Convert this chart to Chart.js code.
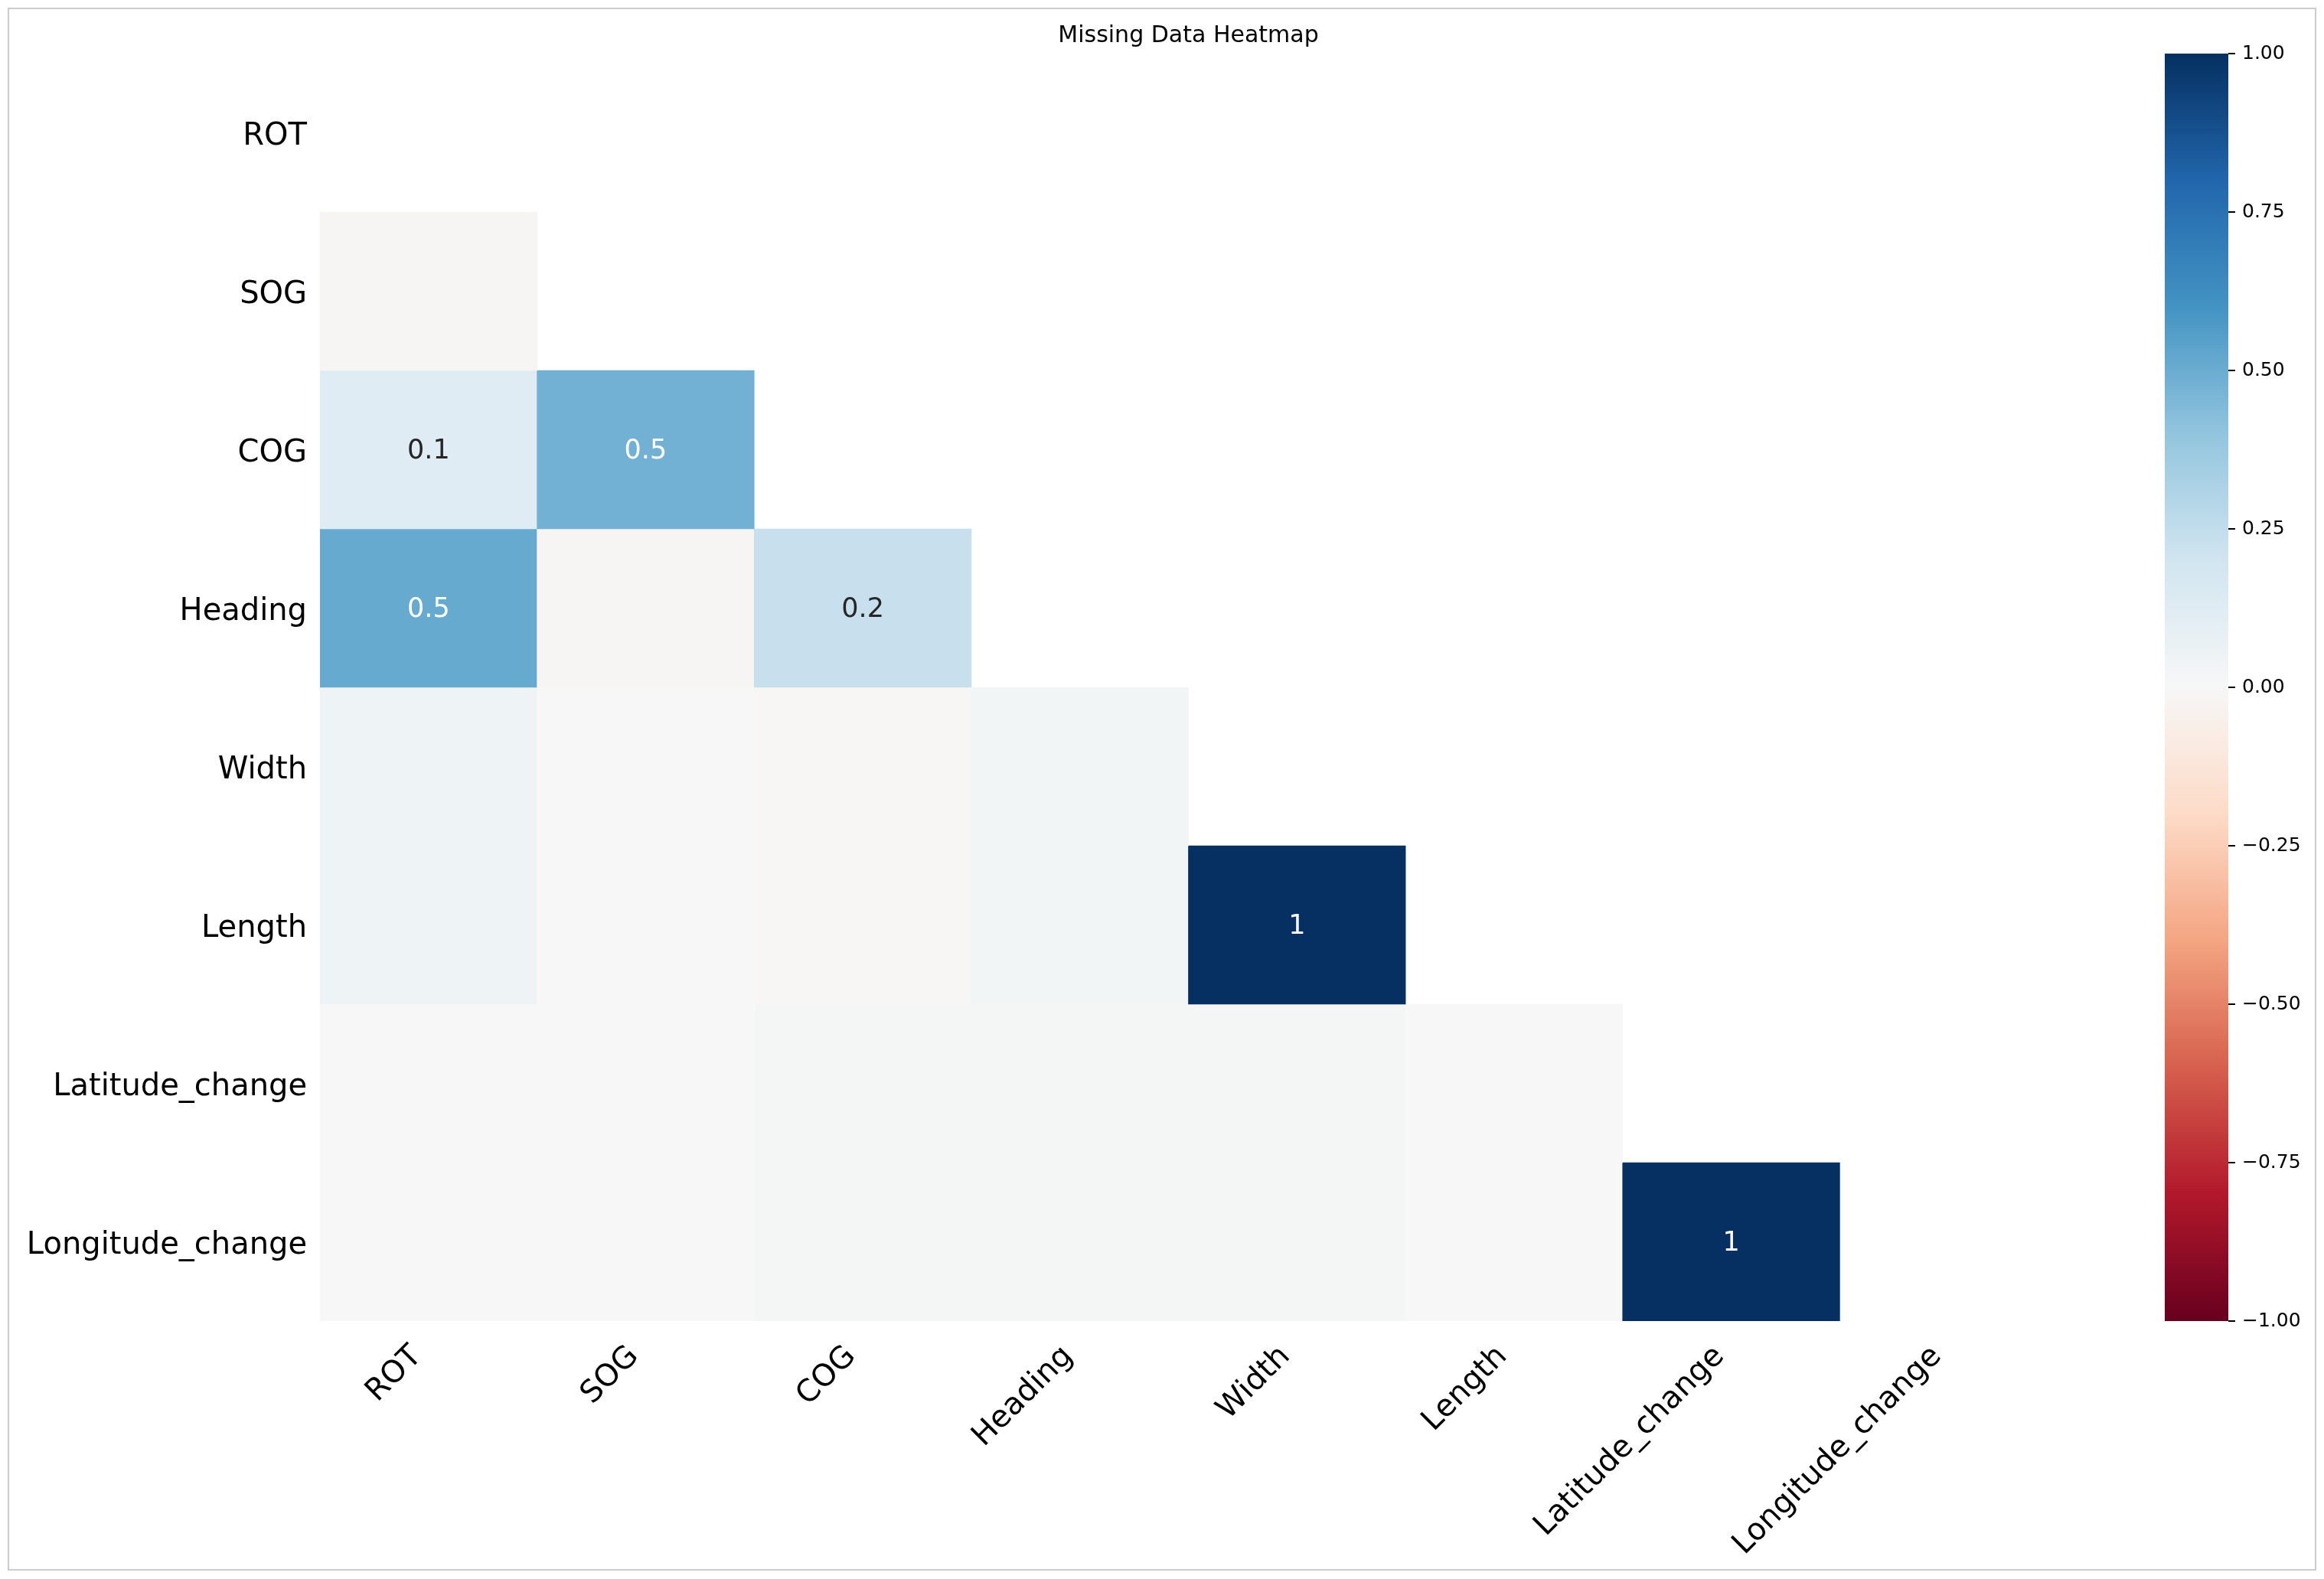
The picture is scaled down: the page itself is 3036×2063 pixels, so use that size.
<!DOCTYPE html>
<html>
<head>
<meta charset="utf-8">
<title>Missing Data Heatmap</title>
<script src="https://cdn.jsdelivr.net/npm/chart.js@4.4.1/dist/chart.umd.min.js"></script>
<style>
  html, body { margin: 0; padding: 0; background: #fff; }
  #page { position: relative; width: 3036px; height: 2063px; overflow: hidden; }
  #frame { position: absolute; left: 10px; top: 10px; width: 3012px; height: 2038px; border: 2px solid #cccccc; }
  #heatBox { position: absolute; left: 0; top: 0; width: 3036px; height: 2063px; }
  #barBox { position: absolute; left: 2780px; top: 0; width: 256px; height: 2063px; }
</style>
</head>
<body>
<div id="page">
  <div id="frame"></div>
  <div id="heatBox"><canvas id="heatmap"></canvas></div>
  <div id="barBox"><canvas id="colorbar"></canvas></div>
</div>
<script>
'use strict';

let columns = ['ROT', 'SOG', 'COG', 'Heading', 'Width', 'Length', 'Latitude_change', 'Longitude_change'];
let rowNames = ['ROT', 'SOG', 'COG', 'Heading', 'Width', 'Length', 'Latitude_change', 'Longitude_change'];

// nullity correlation, lower triangle only (one array per row, left of the diagonal)
let rotRow = [];
let sogRow = [-0.012];
let cogRow = [0.12, 0.48];
let headingRow = [0.51, -0.012, 0.23];
let widthRow = [0.045, 0.0, -0.01, 0.025];
let lengthRow = [0.045, 0.0, -0.01, 0.025, 1];
let latitudeRow = [0.0, 0.0, 0.015, 0.015, 0.015, 0.0];
let longitudeRow = [0.0, 0.0, 0.015, 0.015, 0.015, 0.0, 1];

let colorbarTicks = [-1, -0.75, -0.5, -0.25, 0, 0.25, 0.5, 0.75, 1];

let corrRows = [rotRow, sogRow, cogRow, headingRow, widthRow, lengthRow, latitudeRow, longitudeRow];

///////////////////////////// RdBu colour map /////////////////////////////
let rdbuColors = ['#67001f', '#b2182b', '#d6604d', '#f4a582', '#fddbc7', '#f7f7f7',
                  '#d1e5f0', '#92c5de', '#4393c3', '#2166ac', '#053061'];

function hexRgb(h) {
    return [parseInt(h.slice(1, 3), 16), parseInt(h.slice(3, 5), 16), parseInt(h.slice(5, 7), 16)];
}

function rdbuRgb(v) {
    let t = (v + 1) / 2 * 10;
    let i = Math.min(Math.floor(t), 9);
    let f = t - i;
    let a = hexRgb(rdbuColors[i]);
    let b = hexRgb(rdbuColors[i + 1]);
    return a.map((x, k) => Math.round(x + (b[k] - x) * f));
}

function rdbu(v) {
    let c = rdbuRgb(v);
    return `rgb(${c[0]},${c[1]},${c[2]})`;
}

// same rule seaborn uses to pick the annotation colour
function textColor(v) {
    let lin = rdbuRgb(v).map(x => {
        x = x / 255;
        return x <= 0.03928 ? x / 12.92 : Math.pow((x + 0.055) / 1.055, 2.4);
    });
    let lum = 0.2126 * lin[0] + 0.7152 * lin[1] + 0.0722 * lin[2];
    return lum > 0.408 ? '#262626' : '#ffffff';
}

function cellLabel(v) {
    return String(Number(v.toPrecision(1)));
}

Chart.defaults.font.family = '"DejaVu Sans", sans-serif';
Chart.defaults.color = '#000';

///////////////////////////// heatmap /////////////////////////////
let heatDatasets = [];
for (let r = 0; r < rowNames.length; r++) {
    let vals = corrRows[r];
    heatDatasets.push({
        label: rowNames[r],
        values: vals,
        data: columns.map((c, i) => i < vals.length ? [r, r + 1] : null),
        backgroundColor: columns.map((c, i) => i < vals.length ? rdbu(vals[i]) : 'rgba(0,0,0,0)'),
        borderWidth: 0,
        barPercentage: 1,
        categoryPercentage: 1,
        grouped: false
    });
}

let cellText = {
    id: 'cellText',
    afterDatasetsDraw(chart) {
        let ctx = chart.ctx;
        ctx.save();
        ctx.font = '35px "DejaVu Sans"';
        ctx.textAlign = 'center';
        ctx.textBaseline = 'middle';
        chart.data.datasets.forEach((ds, r) => {
            let meta = chart.getDatasetMeta(r);
            ds.values.forEach((v, c) => {
                if (Math.abs(v) < 0.05) return;
                let p = meta.data[c].getProps(['x', 'y', 'base'], true);
                ctx.fillStyle = textColor(v);
                ctx.fillText(cellLabel(v), p.x, (p.y + p.base) / 2 + 2);
            });
        });
        ctx.restore();
    }
};

new Chart(document.getElementById('heatmap'), {
    type: 'bar',
    data: { labels: columns, datasets: heatDatasets },
    plugins: [cellText],
    options: {
        responsive: true,
        maintainAspectRatio: false,
        animation: false,
        layout: { padding: { left: 0, right: 349, top: 0, bottom: 0 } },
        plugins: {
            legend: { display: false },
            tooltip: { enabled: false },
            title: {
                display: true,
                text: 'Missing Data Heatmap',
                fullSize: false,
                color: '#000',
                font: { size: 30, weight: 'normal' },
                padding: { top: 29, bottom: 5 }
            }
        },
        scales: {
            x: {
                type: 'category',
                offset: true,
                grid: { display: false, drawTicks: false },
                border: { display: false },
                ticks: { autoSkip: false, minRotation: 45, maxRotation: 45, padding: 23, labelOffset: -15,
                         color: '#000', font: { size: 40 } },
                afterFit(scale) { scale.height = 337; }
            },
            y: {
                type: 'linear',
                min: 0,
                max: 8,
                reverse: true,
                grid: { display: false, drawTicks: false },
                border: { display: false },
                afterBuildTicks(scale) { scale.ticks = rowNames.map((n, i) => ({ value: i + 0.5 })); },
                ticks: { autoSkip: false, padding: 17, labelOffset: 5, color: '#000', font: { size: 40 },
                         callback: (v, i) => rowNames[i] },
                afterFit(scale) { scale.width = 418; }
            }
        }
    }
});

///////////////////////////// colour bar /////////////////////////////
function barGradient(context) {
    let chart = context.chart;
    let area = chart.chartArea;
    if (!area) return rdbuColors[5];
    let g = chart.ctx.createLinearGradient(0, area.bottom, 0, area.top);
    rdbuColors.forEach((c, i) => g.addColorStop(i / 10, c));
    return g;
}

new Chart(document.getElementById('colorbar'), {
    type: 'bar',
    data: {
        labels: [''],
        datasets: [{ data: [[-1, 1]], backgroundColor: barGradient, borderWidth: 0, barPercentage: 1, categoryPercentage: 1 }]
    },
    options: {
        responsive: true,
        maintainAspectRatio: false,
        animation: false,
        layout: { padding: { left: 48, right: 0, top: 70, bottom: 337 } },
        plugins: { legend: { display: false }, tooltip: { enabled: false } },
        scales: {
            x: { display: false },
            y: {
                position: 'right',
                min: -1,
                max: 1,
                grid: { drawOnChartArea: false, drawTicks: true, tickLength: 9, color: '#000', lineWidth: 2 },
                border: { display: false },
                afterBuildTicks(scale) { scale.ticks = colorbarTicks.map(v => ({ value: v })); },
                ticks: { padding: 9, color: '#000', font: { size: 25 },
                         callback: v => v.toFixed(2).replace('-', '\u2212') },
                afterFit(scale) { scale.width = 125; }
            }
        }
    }
});
</script>
</body>
</html>
